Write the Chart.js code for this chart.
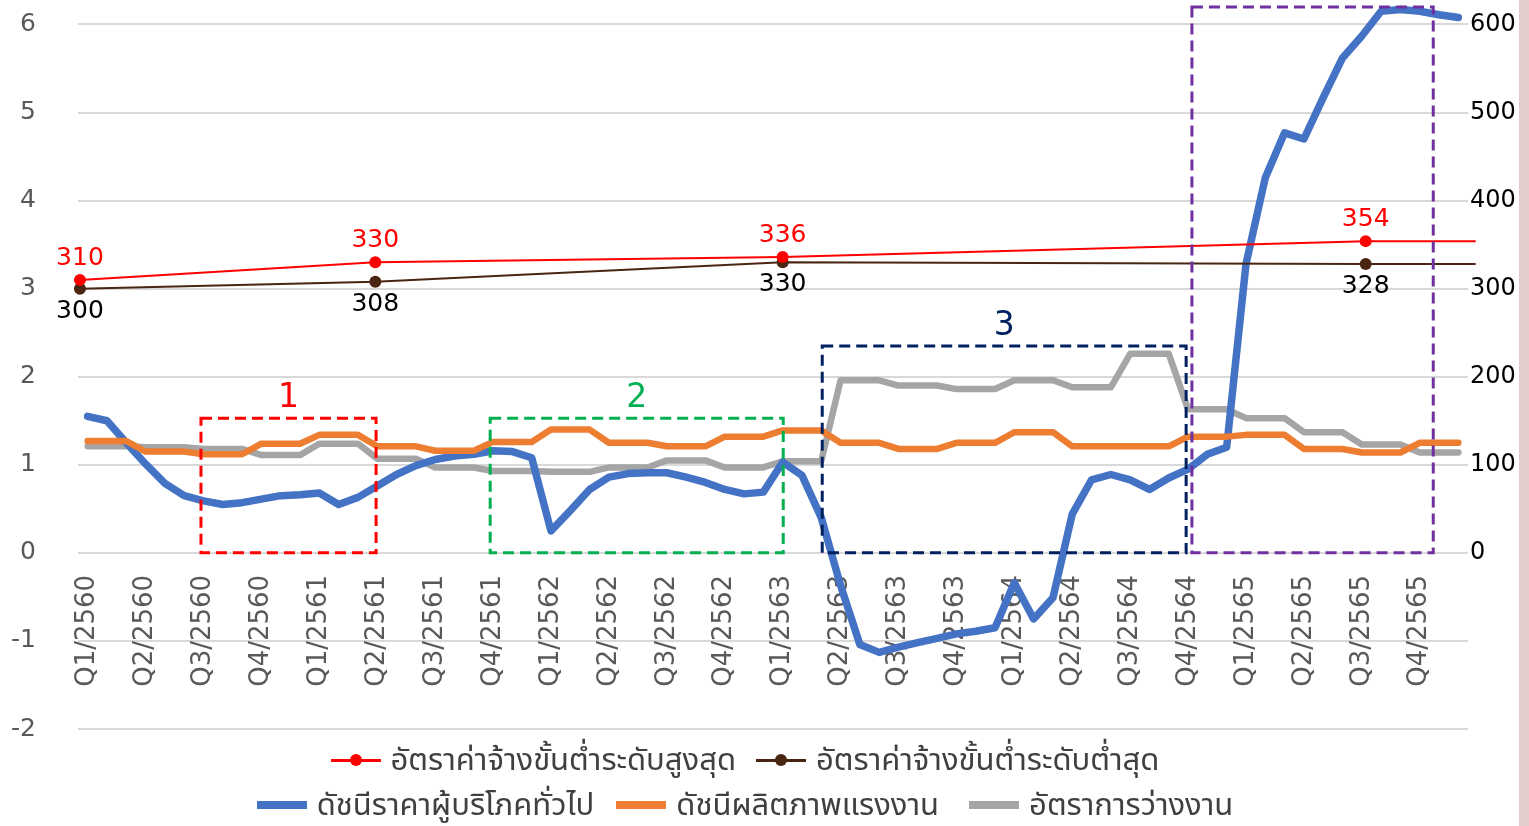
<!DOCTYPE html>
<html lang="th">
<head>
<meta charset="utf-8">
<script src="https://cdn.jsdelivr.net/npm/chart.js@4.4.0/dist/chart.umd.min.js"></script>
<style>
  html, body { margin: 0; padding: 0; background: #fff; }
  #wrap { position: relative; width: 1529px; height: 826px; overflow: hidden; }
  #chart { position: absolute; left: 0; top: 0; }
  #strip { position: absolute; left: 1519px; top: 0; width: 10px; height: 826px; background: #e2cccc; }
  .legend { position: absolute; left: 0; width: 1490px; display: flex; justify-content: center; align-items: center;
            font-family: "Noto Sans Thai", "Noto Sans Thai UI", Tahoma, Sarabun, Loma, Garuda, "DejaVu Sans", sans-serif;
            font-size: 31px; color: #404040; white-space: nowrap; height: 44px; }
  .item { display: flex; align-items: center; }
  .mk { position: relative; width: 50px; height: 12px; margin-right: 10px; }
  .mk .ln { position: absolute; left: 0; right: 0; top: 5px; height: 3px; }
  .mk .dot { position: absolute; left: 19px; top: 0; width: 12px; height: 12px; border-radius: 50%; }
  .mk .bar { position: absolute; left: 0; right: 0; top: 2px; height: 8px; }
</style>
</head>
<body>
<div id="wrap">
  <canvas id="chart" width="1519" height="826"></canvas>
  <div id="strip"></div>
  <div class="legend" style="top:738px">
    <div class="item" style="margin-right:20px"><div class="mk"><div class="ln" style="background:#ff0000"></div><div class="dot" style="background:#ff0000"></div></div>อัตราค่าจ้างขั้นต่ำระดับสูงสุด</div>
    <div class="item"><div class="mk"><div class="ln" style="background:#4a2511"></div><div class="dot" style="background:#4a2511"></div></div>อัตราค่าจ้างขั้นต่ำระดับต่ำสุด</div>
  </div>
  <div class="legend" style="top:783px">
    <div class="item" style="margin-right:22px"><div class="mk"><div class="bar" style="background:#4472c4"></div></div>ดัชนีราคาผู้บริโภคทั่วไป</div>
    <div class="item" style="margin-right:30px"><div class="mk"><div class="bar" style="background:#ed7d31"></div></div>ดัชนีผลิตภาพแรงงาน</div>
    <div class="item"><div class="mk"><div class="bar" style="background:#a5a5a5"></div></div>อัตราการว่างงาน</div>
  </div>
</div>
<script>
// ข้อมูล (อ่านค่าจากภาพ)
const quarterLabels = ['Q1/2560', 'Q2/2560', 'Q3/2560', 'Q4/2560', 'Q1/2561', 'Q2/2561', 'Q3/2561', 'Q4/2561',
  'Q1/2562', 'Q2/2562', 'Q3/2562', 'Q4/2562', 'Q1/2563', 'Q2/2563', 'Q3/2563', 'Q4/2563',
  'Q1/2564', 'Q2/2564', 'Q3/2564', 'Q4/2564', 'Q1/2565', 'Q2/2565', 'Q3/2565', 'Q4/2565'];

// ดัชนีราคาผู้บริโภคทั่วไป (รายเดือน, แกนซ้าย)
const cpi = [1.55, 1.50, 1.25, 1.01, 0.79, 0.65, 0.59, 0.55, 0.57, 0.61, 0.65, 0.66,
  0.68, 0.55, 0.63, 0.76, 0.89, 0.99, 1.06, 1.10, 1.12, 1.16, 1.15, 1.08,
  0.25, 0.48, 0.72, 0.86, 0.90, 0.91, 0.91, 0.86, 0.80, 0.72, 0.67, 0.69,
  1.03, 0.88, 0.40, -0.37, -1.04, -1.13, -1.07, -1.02, -0.97, -0.92, -0.89, -0.85,
  -0.34, -0.75, -0.51, 0.44, 0.83, 0.89, 0.83, 0.72, 0.85, 0.95, 1.12, 1.20,
  3.28, 4.26, 4.77, 4.70, 5.17, 5.62, 5.87, 6.15, 6.17, 6.15, 6.11, 6.08];

// ดัชนีผลิตภาพแรงงาน (แกนขวา)
const productivity = [127, 127, 127, 115, 115, 115, 112, 112, 112, 124, 124, 124,
  134, 134, 134, 121, 121, 121, 116, 116, 116, 126, 126, 126,
  140, 140, 140, 125, 125, 125, 121, 121, 121, 132, 132, 132,
  139, 139, 139, 125, 125, 125, 118, 118, 118, 125, 125, 125,
  137, 137, 137, 121, 121, 121, 121, 121, 121, 132, 132, 132,
  134, 134, 134, 118, 118, 118, 114, 114, 114, 125, 125, 125];

// อัตราการว่างงาน (แกนซ้าย)
const unemployment = [1.21, 1.21, 1.21, 1.20, 1.20, 1.20, 1.18, 1.18, 1.18, 1.11, 1.11, 1.11,
  1.24, 1.24, 1.24, 1.07, 1.07, 1.07, 0.97, 0.97, 0.97, 0.93, 0.93, 0.93,
  0.92, 0.92, 0.92, 0.97, 0.97, 0.97, 1.05, 1.05, 1.05, 0.97, 0.97, 0.97,
  1.04, 1.04, 1.04, 1.96, 1.96, 1.96, 1.90, 1.90, 1.90, 1.86, 1.86, 1.86,
  1.96, 1.96, 1.96, 1.88, 1.88, 1.88, 2.26, 2.26, 2.26, 1.63, 1.63, 1.63,
  1.53, 1.53, 1.53, 1.37, 1.37, 1.37, 1.23, 1.23, 1.23, 1.14, 1.14, 1.14];

// ค่าจ้างขั้นต่ำ (แกนขวา), ตำแหน่งเป็นลำดับเดือน
const wageMonth = [-0.4, 14.9, 36.0, 66.2, 71.9];
const wageMax = [310, 330, 336, 354, 354];
const wageMin = [300, 308, 330, 328, 328];
const wageMarked = [true, true, true, true, false];

// กรอบเส้นประ (ลำดับเดือน / ค่าแกนซ้าย)
const boxes = [
  { from: 5.87, to: 14.94, top: 1.53, color: '#ff0000', label: '1' },
  { from: 20.85, to: 36.03, top: 1.53, color: '#00b050', label: '2' },
  { from: 38.05, to: 56.9, top: 2.35, color: '#002060', label: '3' },
  { from: 57.2, to: 69.7, top: 6.2, color: '#7030a0', label: '' }
];

const monthLabels = quarterLabels.flatMap(q => [q, '', '']);

Chart.defaults.font.family = '"DejaVu Sans", sans-serif';
Chart.defaults.animation = false;

const boxPlugin = {
  id: 'dashedBoxes',
  afterDatasetsDraw(chart) {
    const ctx = chart.ctx, x = chart.scales.x, y = chart.scales.y;
    ctx.save();
    ctx.lineWidth = 3;
    ctx.setLineDash([11, 6]);
    ctx.font = '33px "DejaVu Sans"';
    ctx.textAlign = 'center';
    ctx.textBaseline = 'bottom';
    boxes.forEach(b => {
      const x1 = x.getPixelForValue(b.from), x2 = x.getPixelForValue(b.to);
      const y1 = y.getPixelForValue(b.top), y2 = y.getPixelForValue(0);
      ctx.strokeStyle = b.color;
      ctx.strokeRect(x1, y1, x2 - x1, y2 - y1);
      if (b.label) {
        ctx.fillStyle = b.color;
        ctx.fillText(b.label, (x1 + x2) / 2, y1 - 3);
      }
    });
    ctx.restore();
  }
};

const wageLabelPlugin = {
  id: 'wageLabels',
  afterDatasetsDraw(chart) {
    const ctx = chart.ctx;
    ctx.save();
    ctx.font = '25px "DejaVu Sans"';
    ctx.textAlign = 'center';
    chart.data.datasets.forEach((ds, di) => {
      if (!ds.labelSide) return;
      chart.getDatasetMeta(di).data.forEach((pt, i) => {
        if (!wageMarked[i]) return;
        ctx.fillStyle = ds.labelColor;
        if (ds.labelSide === 'above') {
          ctx.textBaseline = 'bottom';
          ctx.fillText(ds.data[i].y, pt.x, pt.y - 9);
        } else {
          ctx.textBaseline = 'top';
          ctx.fillText(ds.data[i].y, pt.x, pt.y + 10);
        }
      });
    });
    ctx.restore();
  }
};

new Chart(document.getElementById('chart').getContext('2d'), {
  type: 'line',
  data: {
    labels: monthLabels,
    datasets: [{
      label: 'อัตราค่าจ้างขั้นต่ำระดับสูงสุด',
      data: wageMonth.map((m, i) => ({ x: m, y: wageMax[i] })),
      xAxisID: 'x2', yAxisID: 'y2',
      borderColor: '#ff0000', backgroundColor: '#ff0000',
      borderWidth: 2, pointRadius: wageMarked.map(v => v ? 6 : 0), pointBorderWidth: 0,
      clip: false, labelSide: 'above', labelColor: '#ff0000'
    }, {
      label: 'อัตราค่าจ้างขั้นต่ำระดับต่ำสุด',
      data: wageMonth.map((m, i) => ({ x: m, y: wageMin[i] })),
      xAxisID: 'x2', yAxisID: 'y2',
      borderColor: '#4a2511', backgroundColor: '#4a2511',
      borderWidth: 2, pointRadius: wageMarked.map(v => v ? 6 : 0), pointBorderWidth: 0,
      clip: false, labelSide: 'below', labelColor: '#000000'
    }, {
      label: 'ดัชนีผลิตภาพแรงงาน',
      data: productivity,
      yAxisID: 'y2',
      borderColor: '#ed7d31', borderWidth: 6.5, pointRadius: 0,
      borderCapStyle: 'round', borderJoinStyle: 'round', clip: false
    }, {
      label: 'ดัชนีราคาผู้บริโภคทั่วไป',
      data: cpi,
      yAxisID: 'y',
      borderColor: '#4472c4', borderWidth: 7.5, pointRadius: 0,
      borderCapStyle: 'round', borderJoinStyle: 'round', clip: false
    }, {
      label: 'อัตราการว่างงาน',
      data: unemployment,
      yAxisID: 'y',
      borderColor: '#a5a5a5', borderWidth: 6.5, pointRadius: 0,
      borderCapStyle: 'round', borderJoinStyle: 'round', clip: false
    }]
  },
  options: {
    responsive: false,
    events: [],
    layout: { padding: { top: 0, bottom: 97, left: 0, right: 0 } },
    plugins: { legend: { display: false }, tooltip: { enabled: false } },
    scales: {
      x: {
        type: 'category',
        position: { y: 0 },
        offset: true,
        grid: { display: false, drawTicks: false },
        border: { display: false },
        ticks: { autoSkip: false, minRotation: 90, maxRotation: 90, padding: 22, color: '#595959', font: { size: 26 } }
      },
      x2: {
        type: 'linear', min: -0.5, max: 71.5, display: false
      },
      y: {
        position: 'left', min: -2, max: 6.21,
        afterFit(s) { s.width = 78; s.paddingTop = 0; s.paddingBottom = 0; },
        grid: { color: '#d9d9d9', lineWidth: 2, drawTicks: false },
        border: { display: false },
        ticks: { stepSize: 1, includeBounds: false, padding: 42, color: '#595959', font: { size: 25 } }
      },
      y2: {
        position: 'right', min: -200, max: 621,
        afterFit(s) { s.width = 51; s.paddingTop = 0; s.paddingBottom = 0; },
        grid: { drawOnChartArea: false, drawTicks: false },
        border: { display: false },
        ticks: { stepSize: 100, includeBounds: false, padding: 2, color: '#000000', font: { size: 24 },
          callback: v => v < 0 ? '' : v }
      }
    }
  },
  plugins: [boxPlugin, wageLabelPlugin]
});
</script>
</body>
</html>
